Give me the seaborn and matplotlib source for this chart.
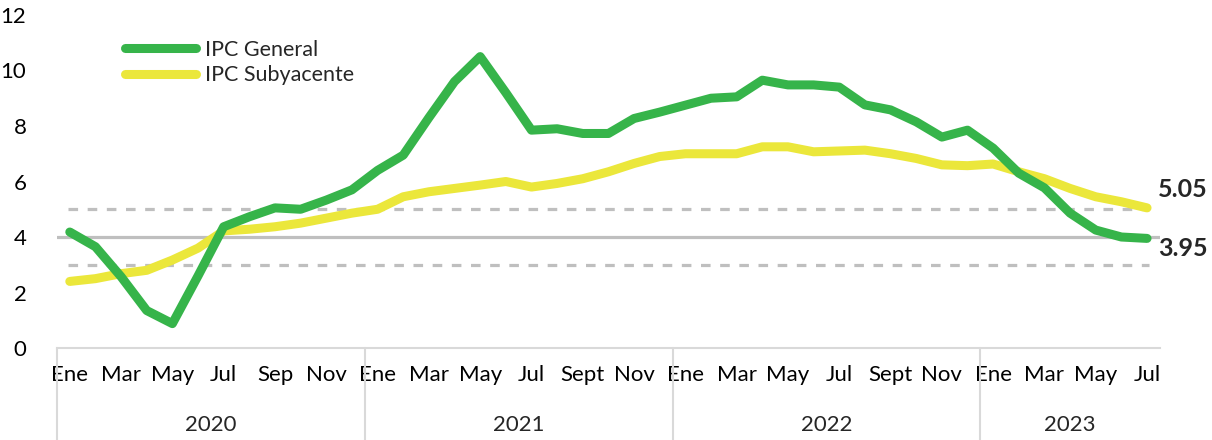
import numpy as np
import pandas as pd
import seaborn as sns
import matplotlib.pyplot as plt
import matplotlib.transforms as mtransforms

# monthly values, Jan 2020 - Jul 2023
ipc_general = [4.18, 3.65, 2.57, 1.35, 0.88, 2.6, 4.37, 4.73, 5.05, 5.0, 5.33, 5.7,
               6.4, 6.95, 8.3, 9.6, 10.5, 9.2, 7.85, 7.9, 7.73, 7.73, 8.27, 8.5,
               8.75, 9.0, 9.05, 9.65, 9.48, 9.48, 9.4, 8.76, 8.58, 8.15, 7.6, 7.85,
               7.2, 6.3, 5.77, 4.86, 4.25, 4.0, 3.95]
ipc_subyacente = [2.4, 2.5, 2.68, 2.8, 3.17, 3.6, 4.22, 4.28, 4.37, 4.5, 4.68, 4.86,
                  5.0, 5.45, 5.63, 5.75, 5.87, 6.0, 5.8, 5.93, 6.1, 6.35, 6.65, 6.9,
                  7.0, 7.0, 7.0, 7.25, 7.25, 7.07, 7.1, 7.13, 7.0, 6.83, 6.6, 6.57,
                  6.63, 6.35, 6.1, 5.75, 5.45, 5.27, 5.05]
years = ["2020", "2021", "2022", "2023"]
months_per_year = [12, 12, 12, 7]
tick_labels = ["Ene", "Mar", "May", "Jul", "Sep", "Nov",
               "Ene", "Mar", "May", "Jul", "Sept", "Nov",
               "Ene", "Mar", "May", "Jul", "Sept", "Nov",
               "Ene", "Mar", "May", "Jul"]
meta = 4
banda = [3, 5]

df = pd.DataFrame({"idx": np.arange(len(ipc_general)),
                   "general": ipc_general,
                   "subyacente": ipc_subyacente})

sns.set_style("white")
plt.rcParams["font.family"] = ["Lato", "DejaVu Sans"]

fig = plt.figure(figsize=(12.12, 4.4), dpi=100)
ax = fig.add_axes([0.047, 0.209, 0.91, 0.757])

green = "#36B44A"
yellow = "#EBE73B"
grey = "#BFBFBF"

ax.axhline(meta, color=grey, lw=2.3, zorder=1)
for b in banda:
    ax.axhline(b, color=grey, lw=2.3, ls=(0, (3, 3)), xmin=0.01, xmax=0.99, zorder=1)

sns.lineplot(data=df, x="idx", y="general", ax=ax, color=green, lw=6.5,
             label="IPC General", solid_capstyle="round", solid_joinstyle="round", zorder=3)
sns.lineplot(data=df, x="idx", y="subyacente", ax=ax, color=yellow, lw=6.5,
             label="IPC Subyacente", solid_capstyle="round", solid_joinstyle="round", zorder=2)

n = len(ipc_general)
ax.set_xlim(-0.5, n - 0.5)
ax.set_ylim(0, 12)
ax.set_yticks(range(0, 13, 2))
ax.set_xticks(range(0, n, 2))
ax.set_xticklabels(tick_labels)
ax.set_xlabel("")
ax.set_ylabel("")
ax.tick_params(axis="both", length=0, labelsize=16, colors="black")
ax.tick_params(axis="x", pad=12)
ax.tick_params(axis="y", pad=22)
for s in ["top", "right", "left"]:
    ax.spines[s].set_visible(False)
ax.spines["bottom"].set_color("#D9D9D9")
ax.spines["bottom"].set_linewidth(1.5)

# year separators and labels
trans = mtransforms.blended_transform_factory(ax.transData, ax.transAxes)
start = -0.5
for yr, m in zip(years, months_per_year):
    ax.plot([start, start], [0, -0.28], transform=trans, color="#D9D9D9",
            lw=1.5, clip_on=False)
    ax.text(start + m / 2, -0.232, yr, transform=trans, ha="center", va="center",
            fontsize=16)
    start += m

# end labels
ax.annotate(f"{ipc_subyacente[-1]:.2f}", (n - 1, ipc_subyacente[-1]),
            xytext=(8, 13), textcoords="offset points", ha="left", va="center",
            fontsize=18, fontweight="bold")
ax.annotate(f"{ipc_general[-1]:.2f}", (n - 1, ipc_general[-1]),
            xytext=(8, -7), textcoords="offset points", ha="left", va="center",
            fontsize=18, fontweight="bold")

leg = ax.legend(loc="upper left", bbox_to_anchor=(0.062, 0.925), frameon=False,
                fontsize=15.5, handlelength=3.3, handletextpad=0.4,
                labelspacing=0.25, borderpad=0, borderaxespad=0)

fig.savefig("out.png", dpi=100)
